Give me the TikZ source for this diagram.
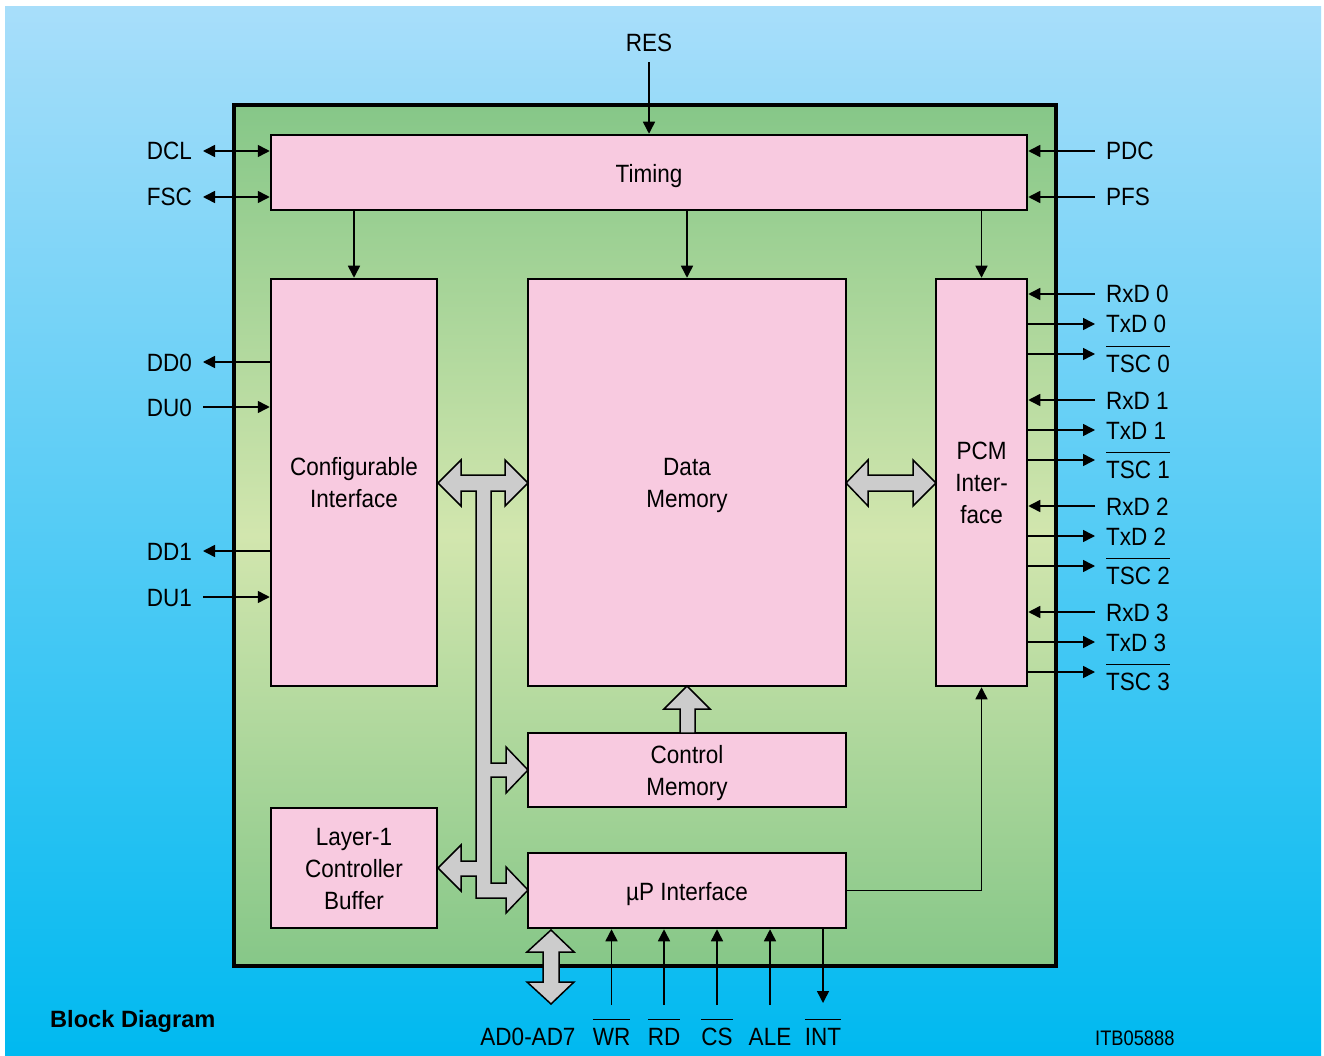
\documentclass[tikz,border=0pt]{standalone}
\usepackage{fontspec}
\setmainfont{Liberation Sans}[FakeStretch=0.9]
\newfontfamily\bdfont{Liberation Sans}
\newfontfamily\itbfont{Liberation Sans}[FakeStretch=0.87]
\usetikzlibrary{arrows.meta}
\definecolor{bgtop}{RGB}{168,222,250}
\definecolor{bgbot}{RGB}{0,185,240}
\definecolor{gedge}{RGB}{134,199,136}
\definecolor{gmid}{RGB}{210,230,174}
\definecolor{pinkf}{RGB}{248,202,224}
\definecolor{busgray}{RGB}{204,204,204}
\newlength\olw
\newcommand\olbar[1]{\settowidth\olw{#1}\rlap{\raisebox{25pt}{\rule{\olw}{1.4pt}}}#1}
\newcommand\dn[2]{\raisebox{-#1}[\height][\depth]{#2}}
\begin{document}
\begin{tikzpicture}[x=1pt,y=-1pt, font=\fontsize{25}{32}\selectfont,
 blk/.style={draw=black, line width=2.5pt, fill=pinkf, align=center, inner sep=0pt},
 lbl/.style={inner xsep=11pt, inner ysep=0pt, text height=18pt, text depth=0pt},
 sig/.style={line width=1.5pt, -{Triangle[length=12pt,width=12pt]}},
 dsig/.style={line width=1.5pt, {Triangle[length=12pt,width=12pt]}-{Triangle[length=12pt,width=12pt]}},
 bus/.style={draw=black, line width=1.5pt, fill=busgray, line join=miter}]
\useasboundingbox (0,0) rectangle (1324,1056);
\fill[white] (0,0) rectangle (1324,1056);
\shade[top color=bgtop,bottom color=bgbot] (5,7) rectangle (1321,1056);
% chip
\node[draw, line width=3.5pt, minimum width=822pt, minimum height=861pt,
  top color=gedge, bottom color=gedge, middle color=gmid, inner sep=0pt] (chip) at (645,535.5) {};
% blocks
\node[blk, minimum width=756pt, minimum height=75pt] (timing) at (649,172.5) {\dn{4pt}{Timing}};
\node[blk, minimum width=166pt, minimum height=407pt] (ci) at (354,482.5) {Configurable\\Interface};
\node[blk, minimum width=318pt, minimum height=407pt] (dm) at (687,482.5) {\dn{3pt}{Data}\\\dn{3pt}{Memory}};
\node[blk, minimum width=91pt, minimum height=407pt] (pcm) at (981.5,482.5) {PCM\\Inter-\\face};
\node[blk, minimum width=318pt, minimum height=74pt] (cm) at (687,770) {\dn{3pt}{Control}\\\dn{3pt}{Memory}};
\node[blk, minimum width=166pt, minimum height=120pt] (l1) at (354,868) {\dn{1pt}{Layer-1}\\\dn{1pt}{Controller}\\\dn{1pt}{Buffer}};
\node[blk, minimum width=318pt, minimum height=75pt] (up) at (687,890.5) {\dn{4pt}{µP Interface}};
% RES
\node[lbl, inner ysep=10pt] (res) at (649,43) {RES};
\draw[sig] (res.south) -- (timing.north);
% timing outputs
\draw[sig] (timing.south -| ci.north) -- (ci.north);
\draw[sig] (timing.south -| dm.north) -- (dm.north);
\draw[sig] (timing.south -| pcm.north) -- (pcm.north);
% left signals
\foreach \n/\y in {DCL/151,FSC/197}{
  \node[lbl,anchor=east] (\n) at (203,\y) {\n};
  \draw[dsig] (\n.east) -- (timing.west |- \n.east);
}
\foreach \n/\y in {DD0/362,DD1/551}{
  \node[lbl,anchor=east] (\n) at (203,\y) {\n};
  \draw[sig] (ci.west |- \n.east) -- (\n.east);
}
\foreach \n/\y in {DU0/407,DU1/597}{
  \node[lbl,anchor=east] (\n) at (203,\y) {\n};
  \draw[sig] (\n.east) -- (ci.west |- \n.east);
}
% right timing inputs
\foreach \n/\y in {PDC/151,PFS/197}{
  \node[lbl,anchor=west] (\n) at (1095,\y) {\n};
  \draw[sig] (\n.west) -- (timing.east |- \n.west);
}
% PCM signals
\foreach \i/\y in {0/294,1/400,2/506,3/612}{
  \node[lbl,anchor=west] (rxd\i) at (1095,\y) {RxD \i};
  \draw[sig] (rxd\i.west) -- (pcm.east |- rxd\i.west);
  \node[lbl,anchor=west] (txd\i) at (1095,\y+30) {TxD \i};
  \draw[sig] (pcm.east |- txd\i.west) -- (txd\i.west);
  \coordinate (tscend\i) at (1095,\y+60);
  \node[lbl,anchor=west] (tsc\i) at (1095,\y+69) {\olbar{TSC \i}};
  \draw[sig] (pcm.east |- tscend\i) -- (tscend\i);
}
% uP to PCM
\draw[sig] (up.east) -| (pcm.south);
% bus arrows
\draw[bus] (438,483) -- (461,460) -- (461,475) -- (505,475) -- (505,460) -- (528,483)
  -- (505,506) -- (505,491) -- (491,491) -- (491,763) -- (506,763) -- (506,747)
  -- (528,770) -- (506,793) -- (506,777) -- (491,777) -- (491,883) -- (506,883)
  -- (506,867) -- (528,890) -- (506,913) -- (506,898) -- (476,898) -- (476,876)
  -- (461,876) -- (461,891) -- (438,868) -- (461,845) -- (461,861) -- (476,861)
  -- (476,491) -- (461,491) -- (461,506) -- cycle;
\draw[bus] (846,483) -- (868,460) -- (868,475) -- (913,475) -- (913,460) -- (936,483)
  -- (913,506) -- (913,491) -- (868,491) -- (868,506) -- cycle;
\draw[bus] (687,686) -- (710,709) -- (695,709) -- (695,733) -- (680,733) -- (680,709)
  -- (664,709) -- cycle;
\draw[bus] (551,930) -- (574,952) -- (559,952) -- (559,982) -- (574,982) -- (551,1004)
  -- (527,982) -- (543,982) -- (543,952) -- (527,952) -- cycle;
% bottom labels
\node[anchor=base] (ad) at (528,1045) {AD0-AD7};
\node[anchor=base] (wr) at (611.5,1045) {\olbar{WR}};
\node[anchor=base] (rd) at (664,1045) {\olbar{RD}};
\node[anchor=base] (cs) at (717,1045) {\olbar{CS}};
\node[anchor=base] (ale) at (770,1045) {ALE};
\node[anchor=base] (int) at (823,1045) {\olbar{INT}};
\coordinate (sigbot) at (0,1005);
\coordinate (intend) at (0,1003);
\foreach \n in {wr,rd,cs,ale}{
  \draw[sig] (\n |- sigbot) -- (\n |- up.south);
}
\draw[sig] (int |- up.south) -- (int |- intend);
% captions
\node[anchor=base west, inner sep=0pt, font=\bdfont\fontsize{23.6}{28}\selectfont\bfseries] (title) at (50,1027) {Block Diagram};
\node[anchor=base west, inner sep=0pt, font=\itbfont\fontsize{21}{26}\selectfont] (itb) at (1095,1045) {ITB05888};
\end{tikzpicture}
\end{document}
